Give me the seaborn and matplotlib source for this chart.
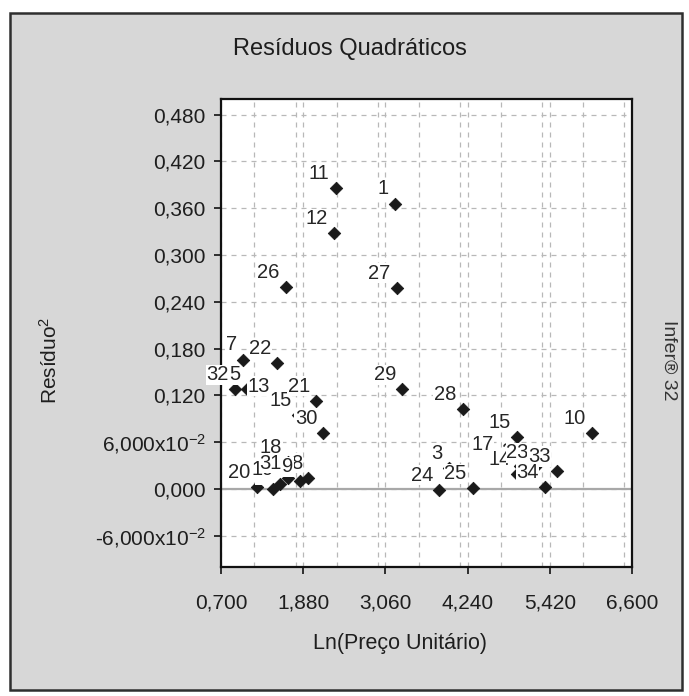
import numpy as np
import pandas as pd
import matplotlib
matplotlib.use("Agg")
import matplotlib.pyplot as plt
import seaborn as sns
from matplotlib.patches import Rectangle
from matplotlib.ticker import FixedLocator, FixedFormatter, MultipleLocator

# ---- data ----
point_labels = ["1", "2", "3", "5", "6", "7", "8", "9", "10", "11", "12", "13",
                "14", "15", "15", "17", "18", "19", "20", "21", "22", "23", "24",
                "25", "26", "27", "28", "29", "30", "31", "32", "33", "34"]
ln_preco = [3.198, 4.990, 3.973, 1.073, 1.451, 1.020, 1.953, 1.834, 6.021, 2.346,
            2.322, 1.490, 4.949, 1.805, 4.945, 4.705, 1.666, 1.547, 1.212, 2.064,
            1.508, 5.207, 3.834, 4.313, 1.629, 3.222, 4.169, 3.303, 2.169, 1.666,
            0.901, 5.519, 5.351]
residuo2 = [0.366, 0.030, 0.027, 0.128, 0.000, 0.166, 0.0145, 0.010, 0.072, 0.386,
            0.328, 0.113, 0.019, 0.095, 0.067, 0.0385, 0.034, 0.006, 0.002, 0.113,
            0.162, 0.028, -0.001, 0.001, 0.259, 0.258, 0.102, 0.128, 0.072, 0.0145,
            0.128, 0.023, 0.003]

x_ticks = [0.70, 1.88, 3.06, 4.24, 5.42, 6.60]
x_tick_labels = ["0,700", "1,880", "3,060", "4,240", "5,420", "6,600"]
y_ticks = [-0.06, 0.0, 0.06, 0.12, 0.18, 0.24, 0.30, 0.36, 0.42, 0.48]
y_tick_labels = [r"-6,000x10$^{-2}$", "0,000", r"6,000x10$^{-2}$", "0,120", "0,180",
                 "0,240", "0,300", "0,360", "0,420", "0,480"]

title = "Resíduos Quadráticos"
x_title = "Ln(Preço Unitário)"
y_title = "Resíduo$^2$"
side_text = "Infer® 32"

# ---- style ----
sns.set_theme(style="white")
plt.rcParams["font.family"] = ["Liberation Sans", "DejaVu Sans"]
plt.rcParams["mathtext.fontset"] = "custom"
plt.rcParams["mathtext.rm"] = "Liberation Sans"
plt.rcParams["mathtext.it"] = "Liberation Sans:italic"
plt.rcParams["mathtext.bf"] = "Liberation Sans:bold"

W, H = 689, 696
fig = plt.figure(figsize=(W / 100, H / 100), dpi=100)
fig.patch.set_facecolor("white")

# grey panel with frame
fig.patches.append(Rectangle((10 / W, 1 - 690 / H), (682 - 10) / W, (690 - 13) / H,
                             transform=fig.transFigure, fc="#d7d7d7", ec="#2e2e2e",
                             lw=1.8, zorder=-10))

ax = fig.add_axes([221 / W, 1 - 567 / H, 411 / W, 468 / H])
ax.set_zorder(2)
ax.set_facecolor("white")

df = pd.DataFrame({"label": point_labels, "x": ln_preco, "y": residuo2})

ax.set_xlim(0.70, 6.60)
ax.set_ylim(-0.10, 0.50)

# grid
ax.xaxis.set_major_locator(FixedLocator(x_ticks))
ax.xaxis.set_major_formatter(FixedFormatter(x_tick_labels))
ax.xaxis.set_minor_locator(MultipleLocator(0.59))
ax.yaxis.set_major_locator(FixedLocator(y_ticks))
ax.yaxis.set_major_formatter(FixedFormatter(y_tick_labels))
ax.grid(True, which="both", axis="x", color="#b8b8b8", linestyle=(0, (4, 4)), lw=0.9)
ax.grid(True, which="major", axis="y", color="#b8b8b8", linestyle=(0, (4, 4)), lw=0.9)
ax.axhline(0, color="#a8a8a8", lw=1.6, zorder=1)
ax.set_axisbelow(True)

sns.scatterplot(data=df, x="x", y="y", marker="D", s=40, color="#1a1a1a",
                edgecolor="#1a1a1a", linewidth=0.6, ax=ax, legend=False, zorder=3)

for lab, xv, yv in zip(df["label"], df["x"], df["y"]):
    ax.annotate(lab, (xv, yv), xytext=(-4.5, 6.5), textcoords="offset points",
                ha="right", va="baseline", fontsize=14.5, color="#262626",
                bbox=dict(boxstyle="square,pad=0.03", fc="white", ec="none"),
                zorder=4, annotation_clip=False)

ax.set_xlabel("")
ax.set_ylabel("")
for s in ax.spines.values():
    s.set_color("#111111")
    s.set_linewidth(1.6)

ax.tick_params(axis="both", which="major", direction="out", length=5, width=1.2,
               color="#111111", labelsize=15, labelcolor="#1e1e1e")
ax.tick_params(axis="x", which="minor", length=0)
ax.tick_params(axis="x", which="major", pad=14)
ax.tick_params(axis="y", which="major", pad=6, left=True)
ax.tick_params(axis="x", bottom=True)

fig.text(350 / W, 1 - 55 / H, title, ha="center", va="baseline", fontsize=17,
         color="#1e1e1e")
fig.text(400 / W, 1 - 643 / H, x_title, ha="center", va="center", fontsize=15.5,
         color="#1e1e1e")
fig.text(50 / W, 1 - 360 / H, y_title, ha="center", va="center", rotation=90,
         fontsize=15, color="#1e1e1e")
fig.text(669 / W, 1 - 360 / H, side_text, ha="center", va="center", rotation=270,
         fontsize=14, color="#333333")

fig.savefig("out.png", dpi=100)
